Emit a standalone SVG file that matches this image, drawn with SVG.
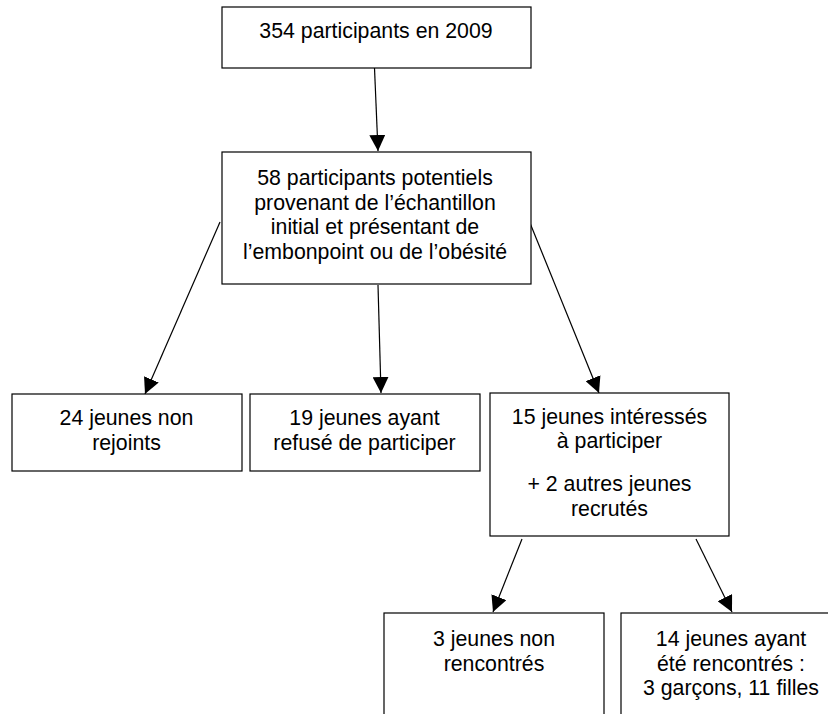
<svg xmlns="http://www.w3.org/2000/svg" width="828" height="714" viewBox="0 0 828 714">
<style>
.box{fill:#fff;stroke:#000;stroke-width:1.2}
.t{font-family:"Liberation Sans",Arial,sans-serif;font-size:21.3px;fill:#000;text-anchor:middle}
.c{stroke:#000;stroke-width:1.2;fill:none;marker-end:url(#ah)}
</style>
<defs>
<marker id="ah" viewBox="0 0 16 16" refX="16" refY="8" markerWidth="16" markerHeight="16" markerUnits="userSpaceOnUse" orient="auto">
<path d="M0,0 L16,8 L0,16 z" fill="#000"/>
</marker>
</defs>
<rect width="828" height="714" fill="#fff"/>
<g id="connectors">
<line class="c" x1="374.5" y1="68" x2="378" y2="151"/>
<line class="c" x1="220" y1="222" x2="145" y2="394"/>
<line class="c" x1="378" y1="285" x2="381" y2="393"/>
<line class="c" x1="530" y1="223" x2="599" y2="393"/>
<line class="c" x1="522" y1="539" x2="493" y2="612"/>
<line class="c" x1="696" y1="539" x2="732" y2="612"/>
</g>
<g id="n1">
<rect class="box" x="222" y="7" width="309" height="61"/>
<text class="t" x="376" y="38">354 participants en 2009</text>
</g>
<g id="n2">
<rect class="box" x="222" y="152" width="309" height="132"/>
<text class="t" x="375" y="185">58 participants potentiels</text>
<text class="t" x="375" y="209.5">provenant de l’échantillon</text>
<text class="t" x="375" y="234">initial et présentant de</text>
<text class="t" x="375" y="258.5">l’embonpoint ou de l’obésité</text>
</g>
<g id="n3">
<rect class="box" x="12" y="394" width="230" height="77"/>
<text class="t" x="126.5" y="425">24 jeunes non</text>
<text class="t" x="126.5" y="449.5">rejoints</text>
</g>
<g id="n4">
<rect class="box" x="250" y="394" width="230" height="77"/>
<text class="t" x="364.5" y="425">19 jeunes ayant</text>
<text class="t" x="364.5" y="449.5">refusé de participer</text>
</g>
<g id="n5">
<rect class="box" x="490" y="393" width="239" height="143"/>
<text class="t" x="609.5" y="423.5">15 jeunes intéressés</text>
<text class="t" x="609.5" y="448">à participer</text>
<text class="t" x="609.5" y="491">+ 2 autres jeunes</text>
<text class="t" x="609.5" y="515.5">recrutés</text>
</g>
<g id="n6">
<rect class="box" x="384" y="613" width="220" height="120"/>
<text class="t" x="494" y="646">3 jeunes non</text>
<text class="t" x="494" y="670.5">rencontrés</text>
</g>
<g id="n7">
<rect class="box" x="621" y="613" width="220" height="120"/>
<text class="t" x="731" y="646">14 jeunes ayant</text>
<text class="t" x="731" y="670.5">été rencontrés :</text>
<text class="t" x="731" y="695">3 garçons, 11 filles</text>
</g>
</svg>
